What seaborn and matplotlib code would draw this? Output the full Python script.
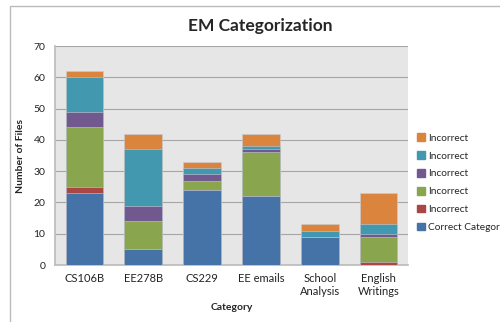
import numpy as np
import pandas as pd
import matplotlib
matplotlib.use("Agg")
import matplotlib.pyplot as plt
import seaborn as sns
from matplotlib.patches import Rectangle

categories = ["CS106B", "EE278B", "CS229", "EE emails", "School\nAnalysis", "English\nWritings"]
correct   = [23, 5, 24, 22, 9, 0]
incorrect1 = [2, 0, 0, 0, 0, 1]   # red
incorrect2 = [19, 9, 3, 14, 0, 8]  # green
incorrect3 = [5, 5, 2, 1, 0, 1]   # purple
incorrect4 = [11, 18, 2, 1, 2, 3]  # teal
incorrect5 = [2, 5, 2, 4, 2, 10]  # orange

series_names = ["Correct Category", "Incorrect", "Incorrect", "Incorrect", "Incorrect", "Incorrect"]
series_vals = [correct, incorrect1, incorrect2, incorrect3, incorrect4, incorrect5]
colors = ["#4572A7", "#AA4643", "#89A54E", "#71588F", "#4198AF", "#DB843D"]

sns.set_theme(style="white")
plt.rcParams['font.family'] = ['Lato', 'DejaVu Sans']

fig = plt.figure(figsize=(5, 3.22), dpi=100)
ax = fig.add_axes([0.11, 0.177, 0.706, 0.68])
ax.set_facecolor("#E6E6E6")

cum = np.cumsum(np.array(series_vals), axis=0)
handles = []
for i in range(len(series_vals) - 1, -1, -1):
    df = pd.DataFrame({"cat": categories, "val": cum[i]})
    sns.barplot(data=df, x="cat", y="val", color=colors[i], saturation=1,
                width=0.64, ax=ax, edgecolor="#C8CCD4", linewidth=0.4, zorder=3)
    handles.append(Rectangle((0, 0), 1, 1, color=colors[i], label=series_names[i]))

ax.set_ylim(0, 70)
ax.set_yticks(range(0, 71, 10))
ax.yaxis.grid(True, color="#A6A6A6", linewidth=0.8, zorder=0)
ax.set_axisbelow(True)
for s in ["top", "right"]:
    ax.spines[s].set_visible(False)
ax.spines["left"].set_color("#BDBDBD")
ax.spines["bottom"].set_color("#BDBDBD")
ax.tick_params(axis="x", length=0, labelsize=8, colors="#222222", pad=6)
ax.tick_params(axis="y", length=0, labelsize=7.5, colors="#222222", pad=7)
ax.set_xlabel("Category", fontsize=7.5, fontweight="bold", labelpad=4)
ax.set_ylabel("Number of Files", fontsize=7.5, fontweight="bold", labelpad=6)

fig.text(0.52, 0.918, "EM Categorization", ha="center", va="center",
         fontsize=12.5, fontweight="bold")

fig.legend(handles=handles, loc="upper left", bbox_to_anchor=(0.826, 0.598),
           frameon=False, fontsize=7.3, handlelength=0.75, handleheight=0.75,
           handletextpad=0.3, labelspacing=0.85, borderaxespad=0)

fig.patches.append(Rectangle((0.019, -0.1), 1.2, 1.081, transform=fig.transFigure,
                             fill=False, edgecolor="#BBBBBB", linewidth=1))

fig.savefig("out.png", dpi=100)
